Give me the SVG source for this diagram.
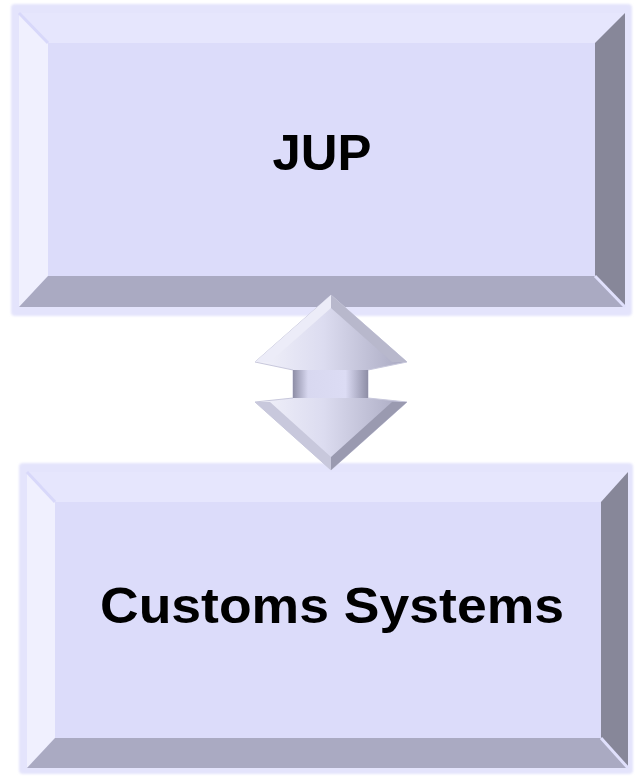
<svg xmlns="http://www.w3.org/2000/svg" width="635" height="778" viewBox="0 0 635 778">
<defs>
<filter id="soft" x="-5%" y="-5%" width="110%" height="110%"><feGaussianBlur stdDeviation="1.2"/></filter>
<linearGradient id="arrowGrad" x1="0" y1="0" x2="1" y2="0">
<stop offset="0" stop-color="#f2f2fa"/>
<stop offset="0.45" stop-color="#dcdcf0"/>
<stop offset="1" stop-color="#a8a8c0"/>
</linearGradient>
<linearGradient id="shaftGrad" x1="0" y1="0" x2="1" y2="0">
<stop offset="0" stop-color="#8e8ea6"/>
<stop offset="0.2" stop-color="#d8d8f0"/>
<stop offset="0.7" stop-color="#dcdcf4"/>
<stop offset="1" stop-color="#8e8ea6"/>
</linearGradient>
</defs>
<style>
.rim{fill:#e4e4fc;}
.face{fill:#dcdcfa;}
.top{fill:#e6e6fd;}
.left{fill:#f0f0fe;}
.right{fill:#878799;}
.bottom{fill:#aaaac2;}
.seam{stroke-width:3;}
.label{font-family:"Liberation Sans",Arial,sans-serif;font-weight:bold;font-size:50px;fill:#000;text-anchor:middle;}
</style>
<rect width="635" height="778" fill="#ffffff"/>
<g id="node-jup">
<rect class="rim" x="11" y="4" width="621" height="312" rx="4" filter="url(#soft)"/>
<polygon class="top" points="19,13 625,13 595,43 48,43"/>
<polygon class="left" points="19,13 48,43 48,276 19,307"/>
<polygon class="right" points="625,13 625,307 595,276 595,43"/>
<polygon class="bottom" points="19,307 48,276 595,276 625,307"/>
<rect class="face" x="48" y="43" width="547" height="233"/>
<line class="seam" x1="19" y1="13" x2="48" y2="43" stroke="#d8d8fa"/>
<line class="seam" x1="595" y1="276" x2="625" y2="307" stroke="#e0e0fc"/>
<text class="label" x="322" y="170" textLength="99" lengthAdjust="spacingAndGlyphs">JUP</text>
</g>
<g id="node-customs">
<rect class="rim" x="19" y="463" width="614" height="311" rx="4" filter="url(#soft)"/>
<polygon class="top" points="27,472 628,472 601,502 55,502"/>
<polygon class="left" points="27,472 55,502 55,738 27,768"/>
<polygon class="right" points="628,472 628,768 601,738 601,502"/>
<polygon class="bottom" points="27,768 55,738 601,738 628,768"/>
<rect class="face" x="55" y="502" width="546" height="236"/>
<line class="seam" x1="27" y1="472" x2="55" y2="502" stroke="#d8d8fa"/>
<line class="seam" x1="601" y1="738" x2="628" y2="768" stroke="#e0e0fc"/>
<text class="label" x="332" y="623" textLength="464" lengthAdjust="spacingAndGlyphs">Customs Systems</text>
</g>
<g id="connectors">
<g id="double-arrow">
<polygon points="331,295 407,362 368,370 368,398 407,402 331,470 255,402 293,398 293,370 255,362" fill="url(#arrowGrad)" stroke="#c8c8dc" stroke-width="1"/>
<rect x="293" y="370" width="75" height="28" fill="url(#shaftGrad)"/>
<polygon points="331,295 331,308 270,362 255,362" fill="#ececf8"/>
<polygon points="331,295 407,362 392,362 331,308" fill="#b8b8cc"/>
<polygon points="255,402 270,402 331,457 331,470" fill="#c8c8dc"/>
<polygon points="407,402 331,470 331,457 392,402" fill="#9a9ab0"/>
</g>
</g>
</svg>
